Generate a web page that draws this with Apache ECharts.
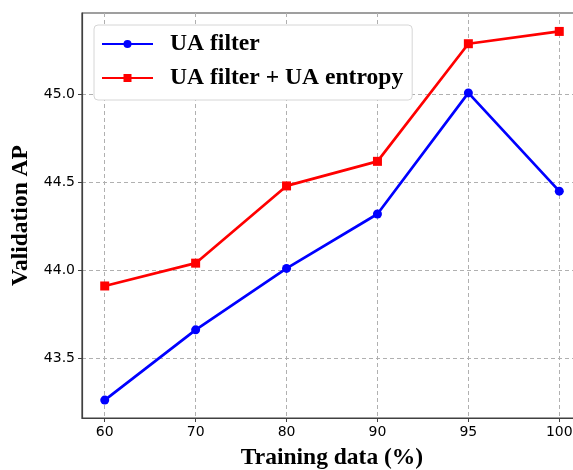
<!DOCTYPE html>
<html>
<head>
<meta charset="utf-8">
<script src="https://cdn.jsdelivr.net/npm/echarts@6/dist/echarts.min.js"></script>
<style>html,body{margin:0;padding:0;background:#fff;}#c{width:573px;height:470px;}</style>
</head>
<body>
<div id="c"></div>
<script>
const categories = ['60', '70', '80', '90', '95', '100'];
const uaFilter = [43.26, 43.66, 44.01, 44.32, 45.01, 44.45];
const uaFilterEntropy = [43.91, 44.04, 44.48, 44.62, 45.29, 45.36];
const yTicks = [43.5, 44.0, 44.5, 45.0];

const xIdx = categories.map((c, i) => i);
const chart = echarts.init(document.getElementById('c'), null, {renderer: 'canvas'});
const gridLine = {show: true, lineStyle: {color: '#b0b0b0', type: [4, 3], width: 1}};
chart.setOption({
  animation: false,
  backgroundColor: '#fff',
  grid: {left: 82, top: 13, right: -9, bottom: 52, outerBoundsMode: 'none', containLabel: false, show: true, borderColor: '#404040', borderWidth: 1.2, backgroundColor: 'transparent'},
  legend: {
    orient: 'vertical', left: 94, top: 25,
    itemWidth: 51, itemHeight: 10, itemGap: 10,
    padding: [7, 9, 10, 7],
    backgroundColor: '#fff', borderColor: '#d6d6d6', borderWidth: 1, borderRadius: 4,
    textStyle: {fontFamily: 'Liberation Serif', fontWeight: 'bold', fontSize: 23.6, color: '#000', padding: [0, 0, 0, 12]},
    data: ['UA filter', 'UA filter + UA entropy']
  },
  xAxis: {
    type: 'value', min: -0.25, max: 5.25,
    name: 'Training data (%)', nameLocation: 'middle', nameGap: 28,
    nameTextStyle: {fontFamily: 'Liberation Serif', fontWeight: 'bold', fontSize: 23.5, color: '#000'},
    axisLine: {show: true, onZero: false, lineStyle: {color: '#404040', width: 1.2}},
    axisTick: {show: true, length: 4, customValues: xIdx, lineStyle: {color: '#404040'}},
    axisLabel: {customValues: xIdx, formatter: v => categories[Math.round(v)], fontFamily: 'DejaVu Sans', fontSize: 14, color: '#000', margin: 7},
    splitLine: gridLine
  },
  yAxis: {
    type: 'value', min: 43.158, max: 45.465,
    name: 'Validation AP', nameLocation: 'middle', nameGap: 44,
    nameTextStyle: {fontFamily: 'Liberation Serif', fontWeight: 'bold', fontSize: 23.5, color: '#000'},
    axisLine: {show: true, onZero: false, lineStyle: {color: '#404040', width: 1.2}},
    axisTick: {show: true, length: 4, customValues: yTicks, lineStyle: {color: '#404040'}},
    axisLabel: {customValues: yTicks, formatter: v => v.toFixed(1), fontFamily: 'DejaVu Sans', fontSize: 14, color: '#000', margin: 7},
    splitLine: gridLine
  },
  series: [
    {
      name: 'UA filter', type: 'line',
      data: uaFilter.map((v, i) => [i, v]),
      symbol: 'circle', symbolSize: 9,
      lineStyle: {color: '#0000ff', width: 2.7},
      itemStyle: {color: '#0000ff'}
    },
    {
      name: 'UA filter + UA entropy', type: 'line',
      data: uaFilterEntropy.map((v, i) => [i, v]),
      symbol: 'rect', symbolSize: 9,
      lineStyle: {color: '#ff0000', width: 2.7},
      itemStyle: {color: '#ff0000'}
    }
  ]
});
</script>
</body>
</html>
